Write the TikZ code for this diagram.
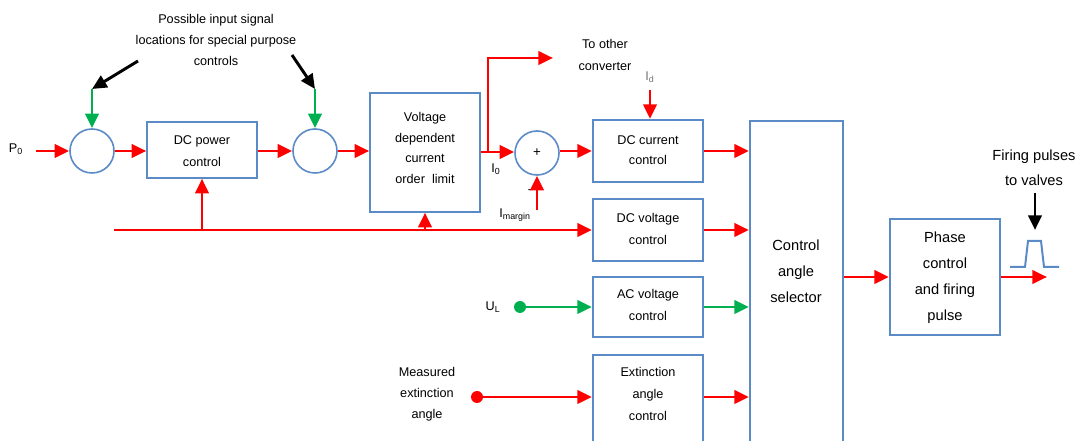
\documentclass[tikz,border=0pt]{standalone}
\usepackage{fontspec}
\setmainfont{Liberation Sans}
\usetikzlibrary{arrows.meta,fit,calc}
\definecolor{bx}{HTML}{5B8BC7}
\definecolor{gr}{HTML}{00B050}
\definecolor{rd}{HTML}{FF0000}
\begin{document}
\begin{tikzpicture}[x=0.75pt,y=-0.75pt,
  box/.style={draw=bx,line width=1.6pt,inner sep=0pt},
  thinbox/.style={box,line width=1.1pt},
  sum/.style={circle,draw=bx,line width=1.2pt,minimum size=33pt,inner sep=0pt,font=\fontsize{10}{12}\selectfont},
  lbl/.style={align=center,font=\fontsize{9.5}{16}\selectfont,inner sep=0pt},
  big/.style={align=center,font=\fontsize{11}{19.5}\selectfont,inner sep=0pt},
  ra/.style={draw=rd,line width=2.2pt,-{Triangle[length=11pt,width=10pt]}},
  ga/.style={draw=gr,line width=2.2pt,-{Triangle[length=11pt,width=10pt]}},
  ka/.style={draw=black,line width=2.2pt,-{Triangle[length=11pt,width=10pt]}},
  dot/.style={circle,minimum size=9pt,inner sep=0pt}
]
\useasboundingbox (0,0) rectangle (1079,441);

% top annotation
\node[lbl] (note) at (216,40) {Possible input signal\\locations for special purpose\\controls};

% summing junctions and boxes
\node[sum] (c1) at (92,151) {};
\node[sum] (c2) at (315,151) {};
\node[sum] (c3) at (537,153) {+};
\node[thinbox,fit={(147,122)(257,178)}] (dcp) {};
\node[thinbox,fit={(370,93)(480,212)}] (vd) {};
\node[box,fit={(593,120)(703,182)}] (dcc) {};
\node[box,fit={(593,199)(703,261)}] (dcv) {};
\node[box,fit={(593,277)(703,337)}] (acv) {};
\node[box,fit={(593,355)(703,470)}] (ext) {};
\node[box,fit={(750,121)(843,470)}] (sel) {};
\node[box,fit={(890,219)(1000,335)}] (ph) {};

% box texts
\node[lbl,font=\fontsize{9.5}{16.5}\selectfont] (dcpt) at (202,151) {DC power\\control};
\node[lbl,font=\fontsize{9.5}{15.5}\selectfont] (vdt) at (425,148) {Voltage\\dependent\\current\\order~ limit};
\node[lbl,font=\fontsize{9.5}{15}\selectfont] (dcct) at (648,150) {DC current\\control};
\node[lbl,font=\fontsize{9.5}{16.5}\selectfont] (dcvt) at (648,229) {DC voltage\\control};
\node[lbl,font=\fontsize{9.5}{15.8}\selectfont] (acvt) at (648,305) {AC voltage\\control};
\node[lbl,font=\fontsize{9.5}{16.2}\selectfont] (extt) at (648,394) {Extinction\\angle\\control};
\node[big] (selt) at (796,271) {Control\\angle\\selector};
\node[big] (pht) at (945,278) {Phase\\control\\and firing\\pulse};

% labels
\node[lbl] (p0) at (16,149) {P\textsubscript{0}};
\node[lbl] (i0) at (496,169) {I\textsubscript{0}};
\node[lbl] (minus) at (530,192) {-};
\node[lbl] (im) at (515,215) {I\textsubscript{margin}};
\node[lbl,text=black!55] (id) at (650,77) {I\textsubscript{d}};
\node[lbl] (toc) at (605,55) {To other\\converter};
\node[lbl] (ul) at (493,307) {U\textsubscript{L}};
\node[lbl,font=\fontsize{9.5}{15.8}\selectfont] (me) at (427,394) {Measured\\extinction\\angle};
\node[big,font=\fontsize{11}{19}\selectfont] (fp) at (1034,168) {Firing pulses\\to valves};

% coordinates for free ends
\coordinate (p0s) at (36,151);
\coordinate (g1) at (92,89);
\coordinate (g2) at (315,89);
\coordinate (k1) at (138,61);
\coordinate (k2) at (292,55);
\coordinate (br) at (488,152);
\coordinate (brt) at (488,58);
\coordinate (toce) at (553,58);
\coordinate (imb) at (537,210);
\coordinate (idt) at (650,90);
\coordinate (ls) at (114,230);
\coordinate (outp) at (1047,277);
\coordinate (fpt) at (1035,193);
\coordinate (fpb) at (1035,230);

% main chain
\draw[ra] (p0s) -- (c1);
\draw[ra] (c1) -- (c1 -| dcp.west);
\draw[ra] (dcp.east |- c1) -- (c2);
\draw[ra] (c2) -- (c2 -| vd.west);
\draw[ra] (vd.east |- br) -- (c3.west |- br);
\draw[ra] (br) -- (brt) -- (toce);
\draw[ra] (c3.east |- dcc) -- (dcc.west);
\draw[ra] (imb) -- (c3.south);
\draw[ra] (idt) -- (idt |- dcc.north);

% special purpose inputs
\draw[ga] (g1) -- (c1);
\draw[ga] (g2) -- (c2);
\draw[ka] (k1) -- (g1);
\draw[ka] (k2) -- (g2);

% feedback line
\draw[ra] (ls) -- (dcv.west |- ls);
\draw[ra] (dcp.south |- ls) -- (dcp.south);
\draw[ra] (vd.south |- ls) -- (vd.south);

% other inputs
\node[dot,fill=gr] (ud) at (520,307) {};
\draw[ga] (ud) -- (acv.west |- ud);
\node[dot,fill=rd] (md) at (477,397) {};
\draw[ra] (md) -- (ext.west |- md);

% into selector
\draw[ra] (dcc.east) -- (dcc.east -| sel.west);
\draw[ra] (dcv.east) -- (dcv.east -| sel.west);
\draw[ga] (acv.east) -- (acv.east -| sel.west);
\draw[ra] (ext.east |- md) -- (sel.west |- md);
\draw[ra] (sel.east |- ph) -- (ph.west);
\draw[ra] (ph.east) -- (outp);

% firing pulse
\draw[draw=bx,line width=1.5pt] (1010,267) -- (1025,267) -- (1028,241) -- (1041,241) -- (1044,267) -- (1059,267);
\draw[ka] (fpt) -- (fpb);
\end{tikzpicture}
\end{document}
